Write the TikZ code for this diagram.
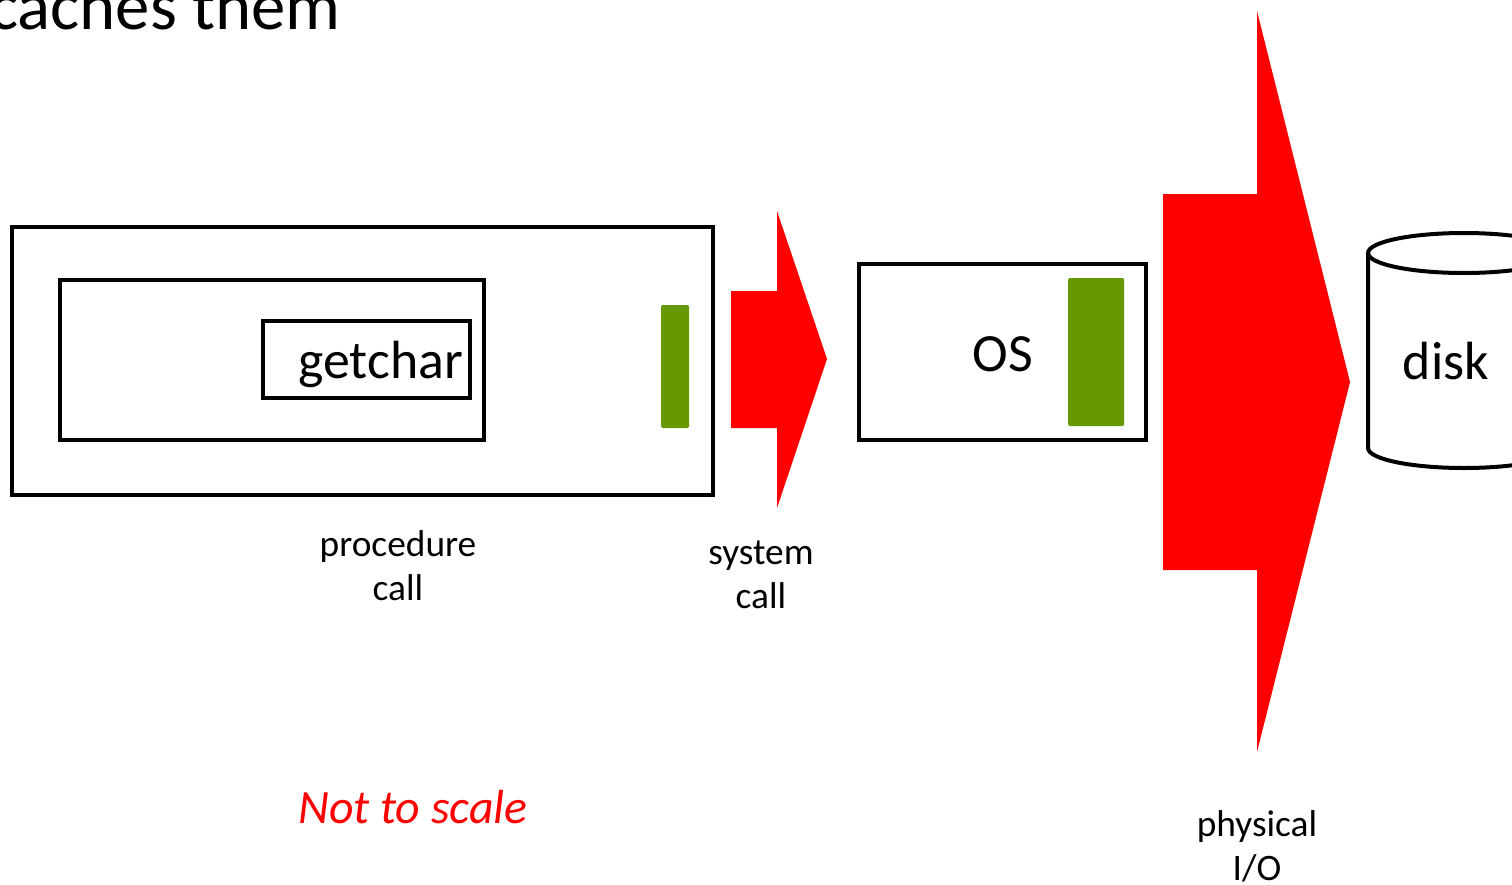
\documentclass[tikz,border=0pt]{standalone}
\usepackage{fontspec}
\setmainfont{Carlito}
\definecolor{barGreen}{HTML}{669900}
\definecolor{arrowRed}{HTML}{FF0000}
\begin{document}
\begin{tikzpicture}[x=1bp,y=-1bp,
  box/.style={draw=black,line width=4bp},
  bar/.style={fill=barGreen,rounded corners=1.5bp},
  big/.style={font=\fontsize{54}{58}\selectfont},
  lbl/.style={font=\fontsize{37.5}{44}\selectfont,align=center},
  redarrow/.style={fill=arrowRed}]
\useasboundingbox (0,0) rectangle (1512,884);
% title
\node[anchor=base west,inner sep=0,font=\fontsize{69}{72}\selectfont] (title) at (-11,29) {caches them};
% program box
\draw[box] (12,227) rectangle (713,495);
\draw[box] (60,280) rectangle (484,440);
\draw[box] (263,321) rectangle (470,398);
\node[big,anchor=base east,inner sep=0] (getchar) at (463,378) {getchar};
\fill[bar] (661,305) rectangle (689,428);
% system call arrow
\fill[redarrow] (731,291) -- (777,291) -- (777,211) -- (827,359) -- (777,508) -- (777,428) -- (731,428) -- cycle;
% OS box
\draw[box] (859,264) rectangle (1146,440);
\fill[bar] (1068,278) rectangle (1124,426);
\node[big,anchor=base,inner sep=0] (os) at (1003,371) {OS};
% physical I/O arrow
\fill[redarrow] (1163,194) -- (1257,194) -- (1257,11) -- (1350,382) -- (1257,752) -- (1257,570) -- (1163,570) -- cycle;
% disk
\draw[line width=4bp,fill=white] (1368,253) -- (1368,448) arc[start angle=180,end angle=0,x radius=96,y radius=20] -- (1560,253);
\draw[line width=4bp] (1464,253) ellipse[x radius=96,y radius=20];
\node[big,anchor=base,inner sep=0] (disk) at (1446,379) {disk};
% labels
\node[lbl] (proc) at (398,566) {procedure\\call};
\node[lbl] (sys) at (761,575) {system\\call};
\node[lbl] (phys) at (1257,846) {physical\\I/O};
\node[font=\fontsize{48}{52}\selectfont\itshape,text=arrowRed,inner sep=0] (scale) at (413,807) {Not to scale};
\end{tikzpicture}
\end{document}
